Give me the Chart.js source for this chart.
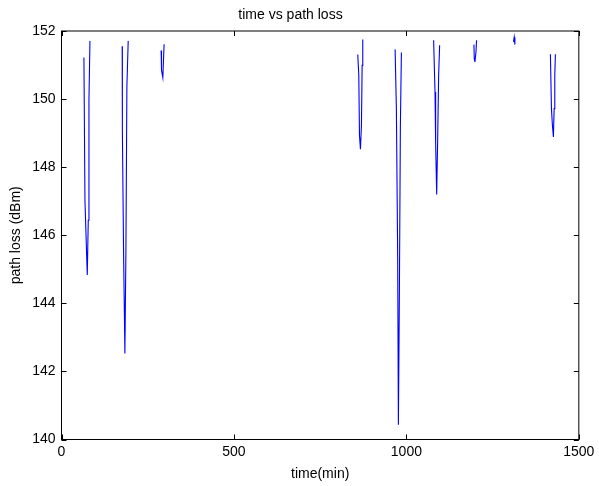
<!DOCTYPE html>
<html>
<head>
<meta charset="utf-8">
<script src="https://cdn.jsdelivr.net/npm/chart.js@4"></script>
<style>
  html, body { margin: 0; padding: 0; background: #ffffff; }
  #wrap { width: 599px; height: 486px; }
</style>
</head>
<body>
<div id="wrap"><canvas id="lossChart" width="599" height="486"></canvas></div>
<script>
// time (min) and path loss (dBm); null marks a break between recorded stretches
const times = [
  65, 68, 74.7, 77.6, 79.6, 82.5, null,
  176, 176.5, 180, 183.8, 186.7, 189.6, 193.4, null,
  288.9, 290, 293.8, 297.5, null,
  859, 862, 864, 866.8, 869.7, 871.7, 873.5, null,
  967.3, 971, 974.8, 976.8, 979.7, 982.6, 985.5, null,
  1079, 1083, 1084.8, 1087.8, 1090.6, 1093.5, 1096.4, null,
  1195.9, 1196.8, 1198.8, 1201.7, 1203.5, null,
  1310.6, 1312.6, 1314.6, null,
  1417.6, 1420.6, 1423.4, 1426.3, 1428.4, 1430.3, 1432.1
];
const pathLoss = [
  151.22, 147.03, 144.83, 146.44, 149.97, 151.71, null,
  151.55, 149.09, 145.47, 142.53, 145.47, 150.36, 151.71, null,
  151.43, 150.85, 150.63, 151.61, null,
  151.31, 150.7, 148.94, 148.53, 149.23, 150.99, 151.75, null,
  151.46, 149.72, 145.32, 140.43, 144.34, 149.23, 151.37, null,
  151.73, 150.21, 148.74, 147.2, 148.74, 150.7, 151.58, null,
  151.6, 151.19, 151.09, 151.38, 151.73, null,
  151.68, 151.82, 151.6, null,
  151.32, 149.72, 149.23, 148.89, 149.72, 150.7, 151.32
];
const xTicks = [0, 500, 1000, 1500];
const yTicks = [140, 142, 144, 146, 148, 150, 152];

const fontFamily = "'Liberation Sans', Arial, Helvetica, sans-serif";

// box round the plot with inward tick marks on all four sides
const matlabFrame = {
  id: "matlabFrame",
  afterDatasetsDraw(chart) {
    const { ctx, chartArea: area, scales } = chart;
    const tick = 5;
    ctx.save();
    ctx.strokeStyle = "#000000";
    ctx.lineWidth = 1;
    ctx.beginPath();
    xTicks.forEach((value) => {
      const x = Math.round(scales.x.getPixelForValue(value)) + 0.5;
      ctx.moveTo(x, area.bottom);
      ctx.lineTo(x, area.bottom - tick);
      ctx.moveTo(x, area.top);
      ctx.lineTo(x, area.top + tick);
    });
    yTicks.forEach((value) => {
      const y = Math.round(scales.y.getPixelForValue(value)) + 0.5;
      ctx.moveTo(area.left, y);
      ctx.lineTo(area.left + tick, y);
      ctx.moveTo(area.right, y);
      ctx.lineTo(area.right - tick, y);
    });
    ctx.stroke();
    ctx.strokeRect(area.left, area.top, area.right - area.left, area.bottom - area.top);
    ctx.restore();
  }
};

const points = times.map((t, i) => ({ x: t, y: pathLoss[i] }));

new Chart(document.getElementById("lossChart"), {
  type: "line",
  data: {
    datasets: [
      {
        label: "path loss",
        data: points,
        borderColor: "#0000ff",
        borderWidth: 1.1,
        pointRadius: 0,
        tension: 0,
        spanGaps: false,
        fill: false
      }
    ]
  },
  options: {
    responsive: false,
    animation: false,
    events: [],
    layout: { padding: { left: 0, right: 18, top: 0, bottom: 0 } },
    plugins: {
      legend: { display: false },
      tooltip: { enabled: false },
      title: {
        display: true,
        text: "time vs path loss",
        color: "#000000",
        font: { family: fontFamily, size: 14, weight: "normal" },
        padding: { top: 7, bottom: 7.2 }
      }
    },
    scales: {
      x: {
        type: "linear",
        min: 0,
        max: 1500,
        afterBuildTicks(scale) {
          scale.ticks = xTicks.map((value) => ({ value }));
        },
        afterFit(scale) {
          scale.height = 46.5;
        },
        grid: { display: false, drawTicks: false },
        border: { display: false },
        ticks: {
          color: "#000000",
          padding: 4.6,
          maxRotation: 0,
          callback: (value) => String(value),
          font: { family: fontFamily, size: 14 }
        },
        title: {
          display: true,
          text: "time(min)",
          color: "#000000",
          font: { family: fontFamily, size: 14 },
          padding: { top: 0, bottom: 3.6 }
        }
      },
      y: {
        type: "linear",
        min: 140,
        max: 152,
        afterBuildTicks(scale) {
          scale.ticks = yTicks.map((value) => ({ value }));
        },
        afterFit(scale) {
          scale.width = 61.5;
        },
        grid: { display: false, drawTicks: false },
        border: { display: false },
        ticks: {
          color: "#000000",
          padding: 6,
          callback: (value) => String(value),
          font: { family: fontFamily, size: 14 }
        },
        title: {
          display: true,
          text: "path loss (dBm)",
          color: "#000000",
          font: { family: fontFamily, size: 14 },
          padding: { top: 8, bottom: 0 }
        }
      }
    }
  },
  plugins: [matlabFrame]
});
</script>
</body>
</html>
